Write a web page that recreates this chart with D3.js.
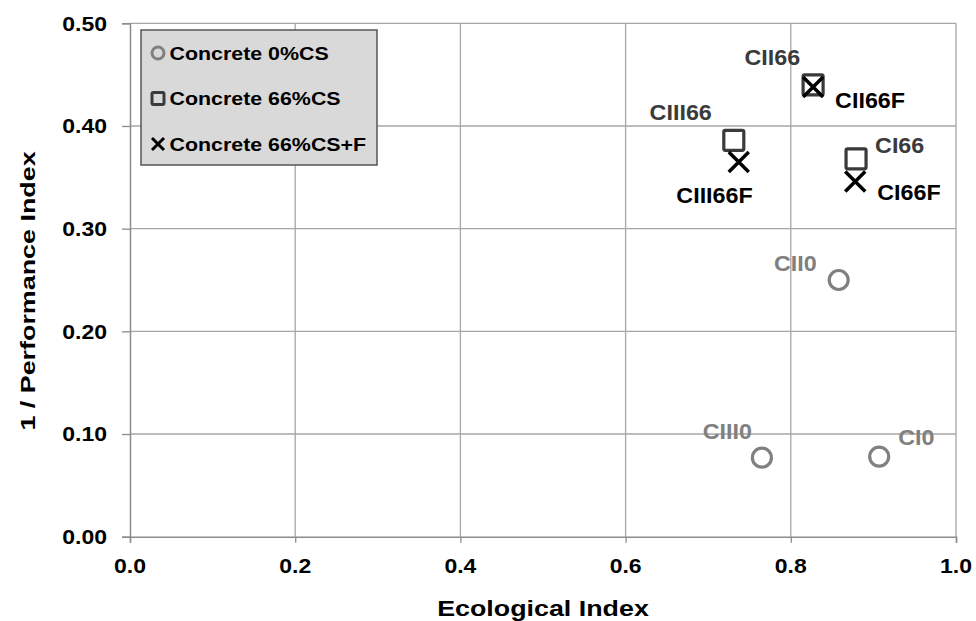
<!DOCTYPE html>
<html>
<head>
<meta charset="utf-8">
<script src="https://cdn.jsdelivr.net/npm/d3@7"></script>
<style>
  html, body { margin: 0; padding: 0; background: #ffffff; }
  svg { display: block; }
  text { font-family: "Liberation Sans", Arial, sans-serif; font-weight: bold; }
</style>
</head>
<body>
<svg id="chart" width="976" height="621"></svg>
<script>
// ---- data ----
const seriesNames = ["Concrete 0%CS", "Concrete 66%CS", "Concrete 66%CS+F"];

const labels0 = ["CI0", "CII0", "CIII0"];
const eco0    = [0.907, 0.858, 0.765];
const perf0   = [0.078, 0.250, 0.077];

const labels66 = ["CI66", "CII66", "CIII66"];
const eco66    = [0.879, 0.827, 0.731];
const perf66   = [0.368, 0.440, 0.386];

const labelsF = ["CI66F", "CII66F", "CIII66F"];
const ecoF    = [0.878, 0.827, 0.737];
const perfF   = [0.346, 0.438, 0.365];

const xTicks = [0, 0.2, 0.4, 0.6, 0.8, 1.0];
const yTicks = [0, 0.1, 0.2, 0.3, 0.4, 0.5];

const xTitle = "Ecological Index";
const yTitle = "1 / Performance Index";

// ---- layout / style (not data) ----
const svg = d3.select("#chart");
const x = d3.scaleLinear().domain([0, 1]).range([130, 956]);
const y = d3.scaleLinear().domain([0, 0.5]).range([536.7, 23.3]);

const gridColor = "#a6a6a6";
const axisColor = "#8c8c8c";
const col0 = "#808080", col66 = "#3a3a3a", colF = "#000000";

// label placement offsets (pixels, relative to the point)
const off0  = [{dx: 19, dy: -12, a: "start"}, {dx: -22, dy: -9, a: "end"}, {dx: -10, dy: -19, a: "end"}];
const off66 = [{dx: 19, dy: -6, a: "start"}, {dx: -13, dy: -20, a: "end"}, {dx: -22, dy: -20, a: "end"}];
const offF  = [{dx: 22, dy: 19, a: "start"}, {dx: 22, dy: 21, a: "start"}, {dx: 14, dy: 41, a: "end"}];

function stext(parent, px, py, str, o) {
  const g = parent.append("g")
    .attr("transform", `translate(${px},${py}) rotate(${o.rot || 0}) scale(${o.sx || 1},1)`);
  g.append("text")
    .attr("text-anchor", o.anchor || "start")
    .attr("dy", o.dy || 0)
    .attr("font-size", o.size)
    .attr("fill", o.fill || "#000")
    .text(str);
  return g;
}

// gridlines
const grid = svg.append("g");
grid.selectAll("line.vx").data(xTicks.filter(d => d > 0)).enter().append("line")
  .attr("x1", d => x(d)).attr("x2", d => x(d))
  .attr("y1", y(0)).attr("y2", y(0.5))
  .attr("stroke", gridColor).attr("stroke-width", 1.3);
grid.selectAll("line.hy").data(yTicks.filter(d => d > 0)).enter().append("line")
  .attr("x1", x(0)).attr("x2", x(1))
  .attr("y1", d => y(d)).attr("y2", d => y(d))
  .attr("stroke", gridColor).attr("stroke-width", 1.3);

// axes
const xAxis = d3.axisBottom(x).tickValues(xTicks).tickSize(6).tickFormat("");
const yAxis = d3.axisLeft(y).tickValues(yTicks).tickSize(8).tickFormat("");
const gx = svg.append("g").attr("transform", `translate(0,${y(0)})`).call(xAxis);
const gy = svg.append("g").attr("transform", `translate(${x(0)},0)`).call(yAxis);
[gx, gy].forEach(g => {
  g.select(".domain").attr("stroke", axisColor).attr("stroke-width", 1.5);
  g.selectAll(".tick line").attr("stroke", axisColor).attr("stroke-width", 1.3);
});

// tick labels
xTicks.forEach(t => stext(svg, x(t), 573, d3.format(".1f")(t), {size: 20, sx: 1.15, anchor: "middle"}));
yTicks.forEach(t => stext(svg, 107, y(t), d3.format(".2f")(t), {size: 20, sx: 1.15, anchor: "end", dy: "0.36em"}));

// axis titles
stext(svg, 543, 616, xTitle, {size: 22, sx: 1.22, anchor: "middle"});
stext(svg, 35, 291, yTitle, {size: 21, sx: 1.28, anchor: "middle", rot: -90});

// markers
const circleR = 9.5, sq = 20, xs = 10;
function drawCircle(g, cx, cy, r, sw) {
  g.append("circle").attr("cx", cx).attr("cy", cy).attr("r", r)
    .attr("fill", "none").attr("stroke", col0).attr("stroke-width", sw);
}
function drawSquare(g, cx, cy, s, sw) {
  g.append("rect").attr("x", cx - s / 2).attr("y", cy - s / 2).attr("width", s).attr("height", s)
    .attr("rx", 1.5).attr("fill", "none").attr("stroke", col66).attr("stroke-width", sw);
}
function drawX(g, cx, cy, h, sw) {
  g.append("path")
    .attr("d", `M${cx - h},${cy - h}L${cx + h},${cy + h}M${cx - h},${cy + h}L${cx + h},${cy - h}`)
    .attr("stroke", colF).attr("stroke-width", sw).attr("fill", "none");
}

const marks = svg.append("g");
eco0.forEach((e, i) => drawCircle(marks, x(e), y(perf0[i]), circleR, 3.2));
eco66.forEach((e, i) => drawSquare(marks, x(e), y(perf66[i]), sq, 3.2));
ecoF.forEach((e, i) => drawX(marks, x(e), y(perfF[i]), xs, 3.5));

// data labels
labels0.forEach((l, i) => stext(svg, x(eco0[i]) + off0[i].dx, y(perf0[i]) + off0[i].dy, l,
  {size: 22, sx: 1.06, anchor: off0[i].a, fill: col0}));
labels66.forEach((l, i) => stext(svg, x(eco66[i]) + off66[i].dx, y(perf66[i]) + off66[i].dy, l,
  {size: 22, sx: 1.06, anchor: off66[i].a, fill: col66}));
labelsF.forEach((l, i) => stext(svg, x(ecoF[i]) + offF[i].dx, y(perfF[i]) + offF[i].dy, l,
  {size: 22, sx: 1.06, anchor: offF[i].a, fill: colF}));

// legend
const leg = svg.append("g");
leg.append("rect").attr("x", 141).attr("y", 30).attr("width", 236).attr("height", 135)
  .attr("fill", "#d9d9d9").attr("stroke", "#555555").attr("stroke-width", 1.5);
const legRowY = [53, 98.5, 144];
drawCircle(leg, 158, legRowY[0], 6, 3);
drawSquare(leg, 158, legRowY[1], 12, 3);
drawX(leg, 158, legRowY[2], 6, 3);
seriesNames.forEach((s, i) => stext(leg, 169.5, legRowY[i] + 6.5, s, {size: 18.6, sx: 1.15, anchor: "start"}));
</script>
</body>
</html>
